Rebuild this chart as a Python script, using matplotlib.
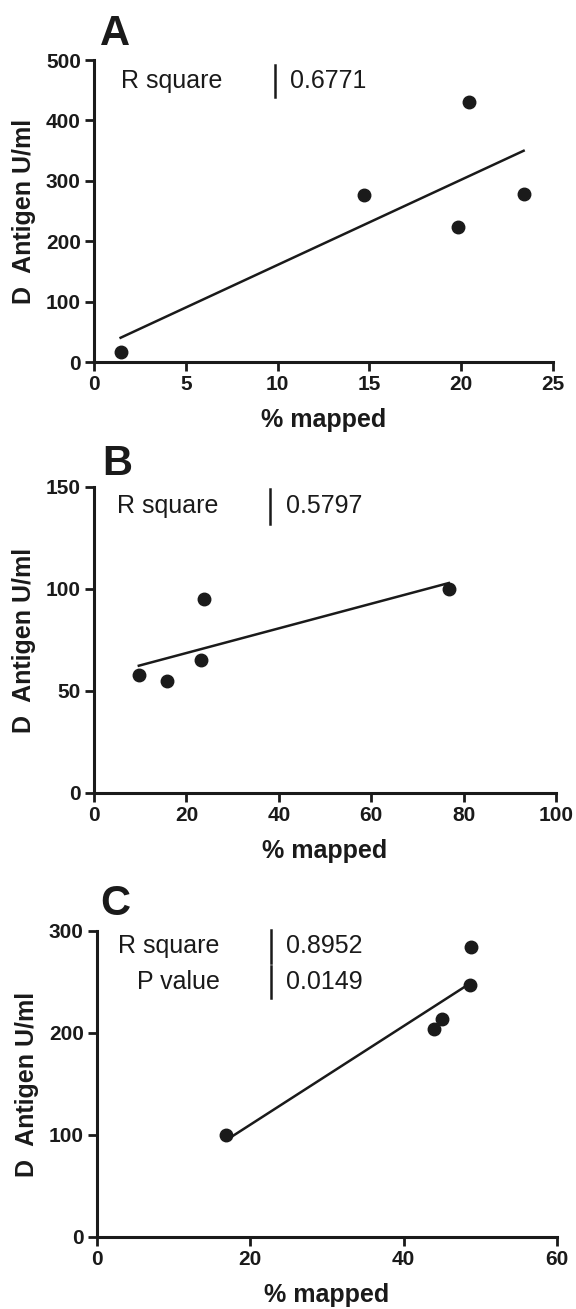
import numpy as np
import matplotlib
matplotlib.use('Agg')
import matplotlib.pyplot as plt

plt.rcParams['font.family'] = ['Liberation Sans', 'DejaVu Sans']

# panel A
a_x = [1.45, 14.7, 20.4, 19.85, 23.4]
a_y = [16, 277, 430, 223, 278]
a_xticks = [0, 5, 10, 15, 20, 25]
a_yticks = [0, 100, 200, 300, 400, 500]

# panel B
b_x = [9.7, 15.9, 23.2, 23.9, 76.8]
b_y = [58, 55, 65, 95, 100]
b_xticks = [0, 20, 40, 60, 80, 100]
b_yticks = [0, 50, 100, 150]

# panel C
c_x = [16.8, 43.9, 45.0, 48.6, 48.8]
c_y = [100, 204, 214, 247, 284]
c_xticks = [0, 20, 40, 60]
c_yticks = [0, 100, 200, 300]

W, H = 576, 1309


def add_panel(fig, px_box, xs, ys, xticks, yticks, letter, letter_pos, stats, stat_pos):
    left, right, top, bottom = px_box
    ax = fig.add_axes([left / W, (H - bottom) / H, (right - left) / W, (bottom - top) / H])
    ax.plot(xs, ys, 'o', color='#1a1a1a', markersize=9, clip_on=False, zorder=3)
    p = np.polyfit(xs, ys, 1)
    xf = np.array([min(xs), max(xs)])
    ax.plot(xf, np.polyval(p, xf), color='#1a1a1a', lw=1.8)
    ax.set_xlim(xticks[0], xticks[-1])
    ax.set_ylim(yticks[0], yticks[-1])
    ax.set_xticks(xticks)
    ax.set_yticks(yticks)
    for s in ['top', 'right']:
        ax.spines[s].set_visible(False)
    for s in ['left', 'bottom']:
        ax.spines[s].set_linewidth(2.2)
        ax.spines[s].set_color('#1a1a1a')
    ax.tick_params(direction='out', length=6.5, width=2, color='#1a1a1a', pad=3,
                   labelsize=15, labelcolor='#1a1a1a')
    for lab in ax.get_xticklabels() + ax.get_yticklabels():
        lab.set_fontweight('bold')
    ax.set_xlabel('% mapped', fontsize=18, fontweight='bold', color='#1a1a1a', labelpad=10)
    ax.set_ylabel('D  Antigen U/ml', fontsize=18, fontweight='bold', color='#1a1a1a', labelpad=7)
    fig.text(letter_pos[0] / W, (H - letter_pos[1]) / H, letter, fontsize=30,
             fontweight='bold', color='#1a1a1a', va='baseline', ha='left')
    lab_x, bar_x, val_x, dy = stat_pos
    for name, val, yc in stats:
        ax.text(lab_x, yc, name, fontsize=18, color='#1a1a1a', ha='right', va='center')
        ax.text(val_x, yc, val, fontsize=18, color='#1a1a1a', ha='left', va='center')
        ax.plot([bar_x, bar_x], [yc - dy, yc + dy], color='#1a1a1a', lw=1.8, clip_on=False)
    return ax


fig = plt.figure(figsize=(W / 100, H / 100), dpi=100)

add_panel(fig, (94, 553, 60, 362), a_x, a_y, a_xticks, a_yticks, 'A', (100, 45),
          [('R square', '0.6771', 465)], (7.0, 9.85, 10.7, 27))
add_panel(fig, (94, 556, 487, 793), b_x, b_y, b_xticks, b_yticks, 'B', (102, 475),
          [('R square', '0.5797', 140.5)], (27.0, 38.2, 41.5, 8.4))
add_panel(fig, (97, 557, 931, 1237), c_x, c_y, c_xticks, c_yticks, 'C', (100, 915),
          [('R square', '0.8952', 285), ('P value', '0.0149', 250)], (16.0, 22.7, 24.7, 16))

fig.savefig('out.png', dpi=100)
